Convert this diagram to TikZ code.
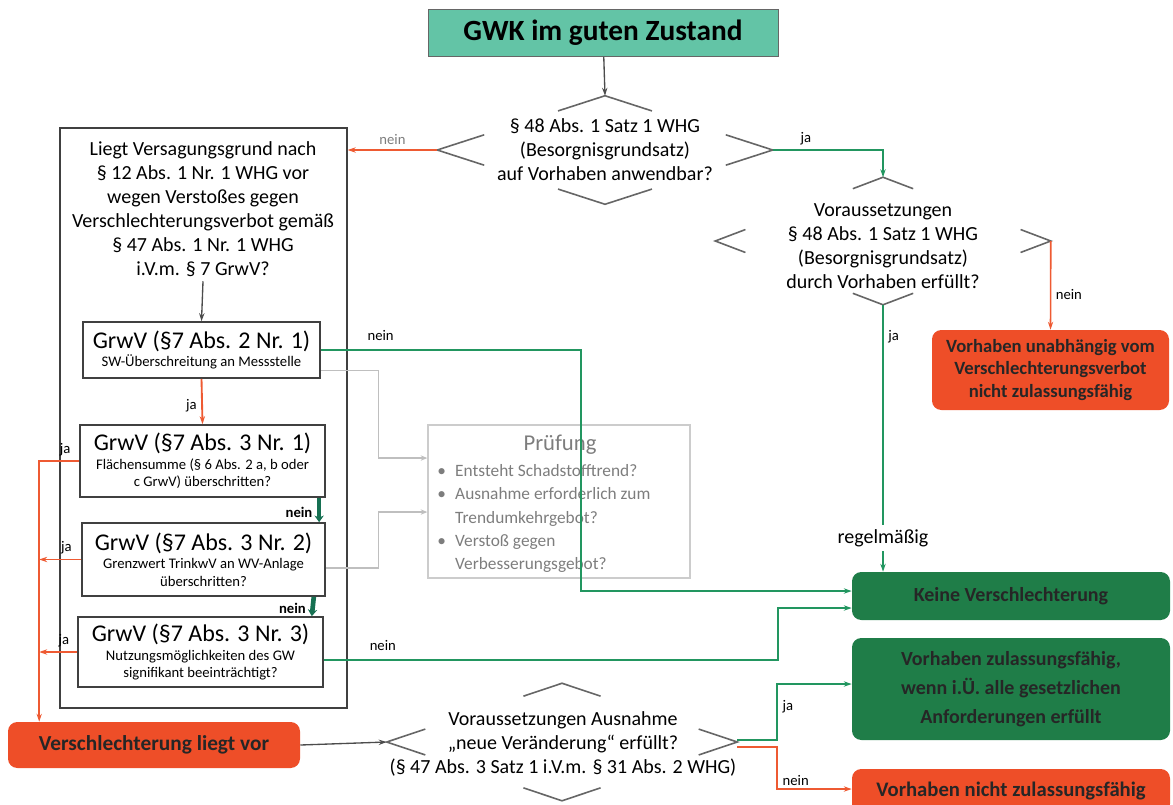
\documentclass[tikz,border=0pt]{standalone}
\usepackage{fontspec}
\setmainfont{Carlito}
\usetikzlibrary{shapes.geometric,arrows.meta,calc}

\definecolor{gwkteal}{RGB}{99,196,166}
\definecolor{boxgruen}{RGB}{31,125,72}
\definecolor{boxrot}{RGB}{238,78,40}
\definecolor{liniengruen}{RGB}{34,150,96}
\definecolor{neingruen}{RGB}{22,112,82}
\definecolor{linienrot}{RGB}{238,90,50}
\definecolor{textgrau}{RGB}{125,125,125}

\newcommand{\px}{0.75pt}
% nur die Ecken einer Raute zeichnen
\newcommand{\ecken}[2][0.28]{%
  \draw[ecke] ($(#2.north)!#1!(#2.west)$) -- (#2.north) -- ($(#2.north)!#1!(#2.east)$);
  \draw[ecke] ($(#2.east)!#1!(#2.north)$) -- (#2.east) -- ($(#2.east)!#1!(#2.south)$);
  \draw[ecke] ($(#2.south)!#1!(#2.east)$) -- (#2.south) -- ($(#2.south)!#1!(#2.west)$);
  \draw[ecke] ($(#2.west)!#1!(#2.south)$) -- (#2.west) -- ($(#2.west)!#1!(#2.north)$);}

\tikzset{
  frage/.style={align=center, font=\fontsize{15}{18}\selectfont},
  raute/.style={diamond, draw=none, inner sep=0pt},
  ecke/.style={draw=black!60, line width=1.2pt},
  titelbox/.style={draw=black!60, fill=gwkteal, minimum width=350*\px, minimum height=47*\px, font=\fontsize{22}{26}\selectfont\bfseries},
  grwbox/.style={draw=black!75, line width=1.2pt, align=center, inner sep=2pt, font=\fontsize{11}{13}\selectfont},
  rahmen/.style={draw=black!75, line width=1pt},
  rotbox/.style={fill=boxrot, rounded corners=7pt, align=center, text=black!85, font=\fontsize{14}{17}\selectfont\bfseries},
  gruenbox/.style={fill=boxgruen, rounded corners=7pt, align=center, text=black!85, font=\fontsize{15}{22}\selectfont\bfseries},
  klein/.style={font=\fontsize{11}{13}\selectfont},
  pfeil/.style={draw=black!70, line width=1pt, -{Stealth[length=6pt,width=4pt]}},
  gruenpfeil/.style={draw=liniengruen, line width=1.4pt, -{Stealth[length=6pt,width=4pt]}},
  rotpfeil/.style={draw=linienrot, line width=1.4pt, -{Stealth[length=6pt,width=4pt]}},
  neinpfeil/.style={draw=neingruen, line width=3.5pt, -{Stealth[length=5pt,width=7pt]}},
  graupfeil/.style={draw=black!25, line width=1pt, -{Stealth[length=5pt,width=4pt]}}
}

\begin{document}
\begin{tikzpicture}[x=0.75pt, y=-0.75pt]
\useasboundingbox (0,0) rectangle (1173,804);

% oben
\node[titelbox] (gwk) at (603,33) {GWK im guten Zustand};
\node[raute, minimum width=335*\px, minimum height=108*\px] (d1) at (605,150) {};
\node[frage] (t1) at (605,150) {§ 48 Abs. 1 Satz 1 WHG\\(Besorgnisgrundsatz)\\auf Vorhaben anwendbar?};
\ecken{d1}
\node[raute, minimum width=335*\px, minimum height=127*\px] (d2) at (883,241) {};
\node[frage] (t2) at (883,246) {Voraussetzungen\\§ 48 Abs. 1 Satz 1 WHG\\(Besorgnisgrundsatz)\\durch Vorhaben erfüllt?};
\ecken[0.18]{d2}

% rechts
\node[rotbox, minimum width=237*\px, minimum height=80*\px] (unab) at (1050.5,370) {Vorhaben unabhängig vom\\Verschlechterungsverbot\\nicht zulassungsfähig};
\node[gruenbox, minimum width=318*\px, minimum height=48*\px] (keine) at (1011,596) {Keine Verschlechterung};
\node[gruenbox, minimum width=318*\px, minimum height=102*\px] (zul) at (1011,689) {Vorhaben zulassungsfähig,\\wenn i.Ü. alle gesetzlichen\\Anforderungen erfüllt};
\node[rotbox, minimum width=318*\px, minimum height=44*\px, font=\fontsize{15.5}{18}\selectfont\bfseries] (nicht) at (1011,791) {Vorhaben nicht zulassungsfähig};

% links
\node[rahmen, minimum width=287*\px, minimum height=580*\px] (vers) at (203.5,418) {};
\node[frage] (verstext) at (203,209) {Liegt Versagungsgrund nach\\§ 12 Abs. 1 Nr. 1 WHG vor\\wegen Verstoßes gegen\\Verschlechterungsverbot gemäß\\§ 47 Abs. 1 Nr. 1 WHG\\i.V.m. § 7 GrwV?};
\node[grwbox, minimum width=237*\px, minimum height=56*\px] (g1) at (201.5,350) {{\fontsize{18}{21}\selectfont GrwV (§7 Abs. 2 Nr. 1)}\\[1pt]SW-Überschreitung an Messstelle};
\node[grwbox, minimum width=245*\px, minimum height=72*\px] (g2) at (202.5,461) {{\fontsize{18}{21}\selectfont GrwV (§7 Abs. 3 Nr. 1)}\\[1pt]Flächensumme (§ 6 Abs. 2 a, b oder\\c GrwV) überschritten?};
\node[grwbox, minimum width=243*\px, minimum height=73*\px] (g3) at (203.5,559.5) {{\fontsize{18}{21}\selectfont GrwV (§7 Abs. 3 Nr. 2)}\\[1pt]Grenzwert TrinkwV an WV-Anlage\\überschritten?};
\node[grwbox, minimum width=245*\px, minimum height=70*\px] (g4) at (200.5,652) {{\fontsize{18}{21}\selectfont GrwV (§7 Abs. 3 Nr. 3)}\\[1pt]Nutzungsmöglichkeiten des GW\\signifikant beeinträchtigt?};
\node[rotbox, minimum width=292*\px, minimum height=46*\px, font=\fontsize{16}{19}\selectfont\bfseries] (vl) at (154,745) {Verschlechterung liegt vor};

% unten
\node[raute, minimum width=350*\px, minimum height=117*\px] (d3) at (562,742) {};
\node[frage] (t3) at (563,743.5) {Voraussetzungen Ausnahme\\„neue Veränderung“ erfüllt?\\(§ 47 Abs. 3 Satz 1 i.V.m. § 31 Abs. 2 WHG)};
\ecken[0.22]{d3}

% Pruefung
\node[draw=black!20, line width=1pt, minimum width=262*\px, minimum height=153*\px] (pruef) at (559,501.5) {};
\node[text=textgrau, font=\fontsize{17}{20}\selectfont] (prueftitel) at (560,445) {Prüfung};
\node[text=textgrau, anchor=north west, inner sep=0pt, font=\fontsize{13}{17.5}\selectfont] (liste) at (437,460) {%
  \begin{tabular}{@{}l@{\hspace{7pt}}l@{}}
  \textbullet & Entsteht Schadstofftrend?\\
  \textbullet & Ausnahme erforderlich zum\\
   & Trendumkehrgebot?\\
  \textbullet & Verstoß gegen\\
   & Verbesserungsgebot?
  \end{tabular}};

% Verbindungen
\draw[pfeil] (gwk) -- (d1.north);
\draw[gruenpfeil] (d1.east) -- node[klein, above, pos=0.3] {ja} (d1.east -| d2.north) -- (d2.north);
\draw[rotpfeil, line width=1pt] (d1.west) -- node[klein, above, text=textgrau] {nein} (d1.west -| vers.east);
\draw[rotpfeil, line width=1.2pt] (d2.east) -- node[klein, right, pos=0.6] {nein} (unab.north);
\draw[gruenpfeil] (d2.south) -- node[klein, right, pos=0.12] {ja} node[frage, fill=white, pos=0.873] {regelmäßig} (d2.south |- keine.north);
\draw[pfeil] (verstext.south) -- (g1.north);
\draw[rotpfeil] (g1.south) -- node[klein, left, pos=0.6] {ja} (g2.north);
\draw[neinpfeil] ([xshift=-5pt]g2.south east) -- node[klein, left, font=\fontsize{11}{13}\selectfont\bfseries, pos=0.6] {nein} ([xshift=-5pt]g3.north east);
\draw[neinpfeil] ([xshift=-9pt]g3.south east) -- node[klein, left, font=\fontsize{11}{13}\selectfont\bfseries, pos=0.6] {nein} ([xshift=-9pt]g4.north east);
\draw[rotpfeil] (g2.west) -- node[klein, above, pos=0.35] {ja} ++(-40,0) coordinate (rk) -- (rk |- vl.north);
\draw[rotpfeil] (g3.west) -- node[klein, above, pos=0.35] {ja} (g3.west -| rk);
\draw[rotpfeil] (g4.west) -- node[klein, above, pos=0.35] {ja} (g4.west -| rk);
\draw[graupfeil] ([yshift=6pt]g1.south east) -- ++(58,0) |- ([yshift=32.6pt]pruef.west);
\draw[graupfeil] ([yshift=-6.4pt]g3.east) -- ++(53,0) |- ([yshift=-7.9pt]pruef.west);
\draw[gruenpfeil] (g1.east) -- node[klein, above=3pt, pos=0.23] {nein} ++(260,0) |- ([yshift=3.75pt]keine.west);
\draw[gruenpfeil] ([yshift=-6pt]g4.east) -- node[klein, above=3pt, pos=0.13] {nein} ++(454,0) |- ([yshift=-9pt]keine.west);
\draw[pfeil] (vl.east) -- (d3.west);
\draw[gruenpfeil] ([yshift=1.5pt]d3.east) -- ++(40,0) |- node[klein, right, pos=0.3] {ja} ([yshift=3.75pt]zul.west);
\draw[rotpfeil] ([yshift=-4pt]d3.east) -- ++(40,0) |- node[klein, right, pos=0.4] {nein} ([yshift=1.5pt]nicht.west);
\end{tikzpicture}
\end{document}
